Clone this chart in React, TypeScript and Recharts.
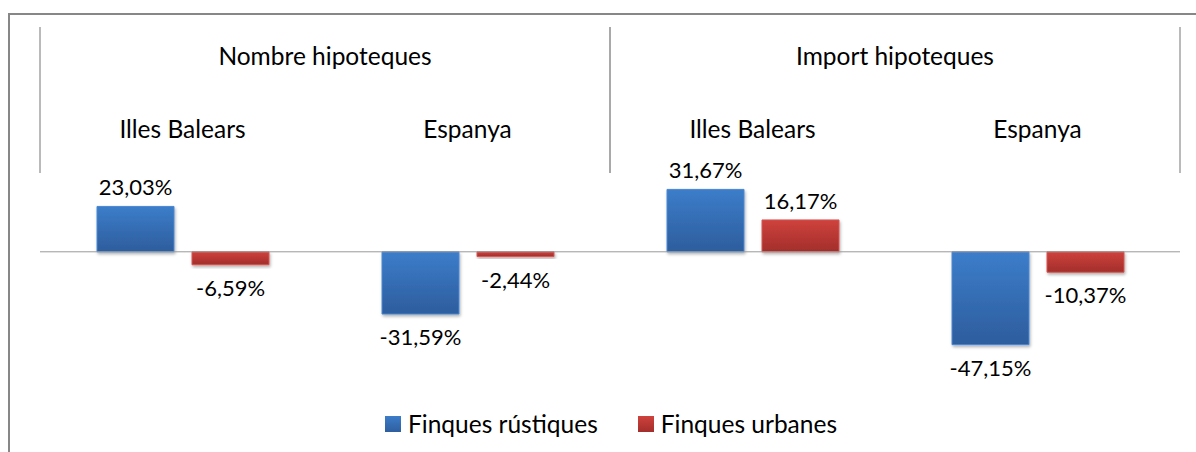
import React from "react";
import {
  BarChart,
  Bar,
  XAxis,
  YAxis,
  ReferenceLine,
  ReferenceArea,
  LabelList,
  Legend,
} from "recharts";

const categories = ["Illes Balears", "Espanya", "Illes Balears", "Espanya"];
const groups = ["Nombre hipoteques", "Nombre hipoteques", "Import hipoteques", "Import hipoteques"];
const rustiques = [23.03, -31.59, 31.67, -47.15];
const urbanes = [-6.59, -2.44, 16.17, -10.37];
const seriesNames = ["Finques rústiques", "Finques urbanes"];

const data = categories.map((c, i) => ({
  key: String(i),
  cat: c,
  group: groups[i],
  rustiques: rustiques[i],
  urbanes: urbanes[i],
}));

const groupSpans = [
  { label: groups[0], x1: "0", x2: "1" },
  { label: groups[2], x1: "2", x2: "3" },
];

const FONT = "Lato, 'DejaVu Sans', sans-serif";
const TEXT_SIZE = 24.5;
const LABEL_SIZE = 22;
const W = 1186;
const H = 437;

const fmt = (v: number) => v.toFixed(2).replace(".", ",") + "%";

const CatTick = (props: any) => {
  const { x, payload } = props;
  const label = categories[Number(payload.value)];
  return (
    <text x={x} y={123} textAnchor="middle" fontFamily={FONT} fontSize={TEXT_SIZE} fill="#000">
      {label}
    </text>
  );
};

const makeGroupShape = (label: string) => (props: any) => {
  const { x, y, width } = props;
  return (
    <g>
      <line x1={x} x2={x} y1={12} y2={y} stroke="#a3a3a3" strokeWidth={1.5} />
      <line x1={x + width} x2={x + width} y1={12} y2={y} stroke="#a3a3a3" strokeWidth={1.5} />
      <text x={x + width / 2} y={50} textAnchor="middle" fontFamily={FONT} fontSize={TEXT_SIZE} fill="#000">
        {label}
      </text>
    </g>
  );
};

const renderLabel = (props: any) => {
  const vb = props.viewBox || {};
  const x = props.x ?? vb.x;
  const y = props.y ?? vb.y;
  const width = props.width ?? vb.width;
  const height = props.height ?? vb.height;
  const value = Number(props.value);
  const top = Math.min(y, y + height);
  const bottom = Math.max(y, y + height);
  const ty = value >= 0 ? top - 11 : bottom + 31;
  return (
    <text x={x + width / 2} y={ty} textAnchor="middle" fontFamily={FONT} fontSize={LABEL_SIZE} fill="#000">
      {fmt(value)}
    </text>
  );
};

const LegendContent = () => (
  <div
    style={{
      display: "flex",
      justifyContent: "center",
      alignItems: "center",
      height: 36,
      fontFamily: FONT,
      fontSize: TEXT_SIZE,
      color: "#000",
    }}
  >
    <span style={{ display: "flex", alignItems: "center", marginRight: 40 }}>
      <span
        style={{
          width: 16,
          height: 16,
          marginRight: 7,
          background: "linear-gradient(#3c7cc9, #2e5f9f)",
          display: "inline-block",
        }}
      />
      <span style={{ lineHeight: 1 }}>{seriesNames[0]}</span>
    </span>
    <span style={{ display: "flex", alignItems: "center" }}>
      <span
        style={{
          width: 16,
          height: 16,
          marginRight: 7,
          background: "linear-gradient(#cf423d, #a32e2b)",
          display: "inline-block",
        }}
      />
      <span style={{ lineHeight: 1 }}>{seriesNames[1]}</span>
    </span>
  </div>
);

export default function App() {
  return (
    <div
      style={{
        position: "fixed",
        left: 0,
        top: 0,
        width: 1196,
        height: 452,
        overflow: "hidden",
        background: "#fff",
      }}
    >
      <div
        style={{
          position: "absolute",
          left: 8,
          top: 13,
          width: 1210,
          height: 460,
          border: "2px solid #878787",
          boxSizing: "border-box",
        }}
      >
        <BarChart
          width={W}
          height={H}
          data={data}
          margin={{ top: 0, right: 16, bottom: 82, left: 30 }}
          barSize={77}
          barGap={18}
        >
          <defs>
            <linearGradient id="gBlue" x1="0" y1="0" x2="0" y2="1">
              <stop offset="0%" stopColor="#3c7dca" />
              <stop offset="100%" stopColor="#2d5d9d" />
            </linearGradient>
            <linearGradient id="gRed" x1="0" y1="0" x2="0" y2="1">
              <stop offset="0%" stopColor="#cf423d" />
              <stop offset="100%" stopColor="#a22e2b" />
            </linearGradient>
            <filter id="shadow" x="-10%" y="-10%" width="130%" height="140%">
              <feDropShadow dx="1" dy="2" stdDeviation="1.5" floodColor="#000" floodOpacity="0.3" />
            </filter>
          </defs>
          <XAxis
            dataKey="key"
            orientation="top"
            height={158}
            axisLine={false}
            tickLine={false}
            tick={<CatTick />}
            interval={0}
          />
          <YAxis hide domain={[-60, 40]} allowDataOverflow />
          {groupSpans.map((g) => (
            <ReferenceArea
              key={g.label}
              x1={g.x1}
              x2={g.x2}
              fill="none"
              stroke="none"
              ifOverflow="visible"
              shape={makeGroupShape(g.label)}
            />
          ))}
          <Legend
            layout="horizontal"
            verticalAlign="middle"
            align="center"
            content={<LegendContent />}
            wrapperStyle={{ top: 391, left: 28, width: 1146, height: 36, bottom: "auto" }}
          />
          <Bar
            dataKey="rustiques"
            name={seriesNames[0]}
            fill="url(#gBlue)"
            stroke="#4a88d4"
            strokeWidth={1}
            filter="url(#shadow)"
            isAnimationActive={false}
          >
            <LabelList dataKey="rustiques" content={renderLabel} />
          </Bar>
          <Bar
            dataKey="urbanes"
            name={seriesNames[1]}
            fill="url(#gRed)"
            stroke="#d65550"
            strokeWidth={1}
            filter="url(#shadow)"
            isAnimationActive={false}
          >
            <LabelList dataKey="urbanes" content={renderLabel} />
          </Bar>
          <ReferenceLine y={0} stroke="#999" strokeWidth={1} ifOverflow="visible" />
        </BarChart>
      </div>
    </div>
  );
}
